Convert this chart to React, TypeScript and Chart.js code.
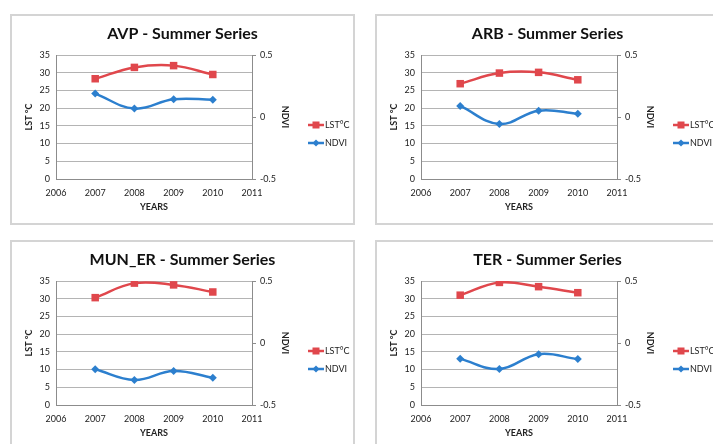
import React, { useEffect, useRef } from "react";
import { Chart, registerables } from "chart.js";

Chart.register(...registerables);

const years = [2007, 2008, 2009, 2010];

const avpLst = [28.3, 31.5, 32.0, 29.5];
const avpNdvi = [0.189, 0.068, 0.143, 0.14];

const arbLst = [26.9, 29.9, 30.1, 28.0];
const arbNdvi = [0.089, -0.057, 0.051, 0.026];

const munLst = [30.3, 34.4, 33.9, 31.9];
const munNdvi = [-0.212, -0.298, -0.226, -0.28];

const terLst = [31.0, 34.6, 33.4, 31.7];
const terNdvi = [-0.128, -0.21, -0.09, -0.13];

const titles = [
  "AVP - Summer Series",
  "ARB - Summer Series",
  "MUN_ER - Summer Series",
  "TER - Summer Series",
];

const lstLabel = "LST°C";
const ndviLabel = "NDVI";
const leftAxisTitle = "LST °C";
const rightAxisTitle = "NDVI";
const xAxisTitle = "YEARS";

const RED = "#E0474C";
const BLUE = "#2C7FCE";
const FONT = "Lato, 'Liberation Sans', sans-serif";

const W = 341;
const H = 207;
const PLOT_L = 44;
const PLOT_R = 240;
const PLOT_T = 39;
const PLOT_B = 163;
const Y2W = W - PLOT_R;

const legendPlugin = {
  id: "sideLegend",
  afterDraw(chart: any) {
    const { ctx, chartArea } = chart;
    const mid = (chartArea.top + chartArea.bottom) / 2;
    const x0 = chartArea.right + 56;
    const rows = [mid + 8, mid + 26];
    chart.data.datasets.forEach((ds: any, i: number) => {
      const y = rows[i];
      ctx.save();
      ctx.strokeStyle = ds.borderColor;
      ctx.lineWidth = 2.5;
      ctx.beginPath();
      ctx.moveTo(x0, y);
      ctx.lineTo(x0 + 16, y);
      ctx.stroke();
      ctx.fillStyle = ds.borderColor;
      if (i === 0) {
        ctx.fillRect(x0 + 8 - 3.5, y - 3.5, 7, 7);
      } else {
        ctx.beginPath();
        ctx.moveTo(x0 + 8, y - 3.5);
        ctx.lineTo(x0 + 11.5, y);
        ctx.lineTo(x0 + 8, y + 3.5);
        ctx.lineTo(x0 + 4.5, y);
        ctx.closePath();
        ctx.fill();
      }
      ctx.fillStyle = "#222";
      ctx.font = `9px ${FONT}`;
      ctx.textBaseline = "middle";
      ctx.textAlign = "left";
      ctx.fillText(ds.label, x0 + 17, y);
      ctx.restore();
    });
  },
};

function Panel(props: { title: string; lst: number[]; ndvi: number[]; left: number; top: number }) {
  const ref = useRef<HTMLCanvasElement | null>(null);
  useEffect(() => {
    if (!ref.current) return;
    const tickFont = { family: FONT, size: 9 };
    const titleFont = { family: FONT, size: 9, weight: "bold" as const };
    const chart = new Chart(ref.current, {
      type: "line",
      data: {
        datasets: [
          {
            label: lstLabel,
            data: years.map((x, i) => ({ x, y: props.lst[i] })),
            borderColor: RED,
            backgroundColor: RED,
            borderWidth: 2.5,
            pointStyle: "rect",
            pointRadius: 5.3,
            pointBorderWidth: 0,
            tension: 0.4,
            yAxisID: "y",
          },
          {
            label: ndviLabel,
            data: years.map((x, i) => ({ x, y: props.ndvi[i] })),
            borderColor: BLUE,
            backgroundColor: BLUE,
            borderWidth: 2.5,
            pointStyle: "rectRot",
            pointRadius: 4,
            pointBorderWidth: 0,
            tension: 0.4,
            yAxisID: "y2",
          },
        ],
      },
      options: {
        responsive: false,
        animation: false,
        layout: { padding: 0 },
        plugins: {
          legend: { display: false },
          tooltip: { enabled: false },
          title: {
            display: true,
            text: props.title,
            color: "#111",
            font: { family: FONT, size: 16, weight: "bold" },
            padding: { top: 7.8, bottom: PLOT_T - 7.8 - 19.2 },
          },
        },
        scales: {
          x: {
            type: "linear",
            min: 2006,
            max: 2011,
            ticks: { stepSize: 1, color: "#222", font: tickFont, padding: 9, callback: (v: any) => String(v) },
            grid: { display: false, drawTicks: false },
            border: { display: true, color: "#8c8c8c" },
            title: { display: true, text: xAxisTitle, color: "#222", font: titleFont, padding: { top: 0, bottom: 10.9 } },
            afterFit: (s: any) => {
              s.height = H - PLOT_B;
            },
          },
          y: {
            position: "left",
            min: 0,
            max: 35,
            ticks: { stepSize: 5, color: "#222", font: tickFont, padding: 6 },
            grid: { color: "#b4b4b4", drawTicks: false },
            border: { display: true, color: "#8c8c8c" },
            title: { display: true, text: leftAxisTitle, color: "#222", font: titleFont, padding: { top: 11.6, bottom: 0 } },
            afterFit: (s: any) => {
              s.width = PLOT_L;
            },
          },
          y2: {
            position: "right",
            min: -0.5,
            max: 0.5,
            ticks: { stepSize: 0.5, color: "#222", font: tickFont, padding: 4 },
            grid: { drawOnChartArea: false, drawTicks: true, tickLength: 4, color: "#8c8c8c" },
            border: { display: true, color: "#8c8c8c" },
            title: { display: true, text: rightAxisTitle, color: "#222", font: titleFont, padding: { top: Y2W - 33 - 5.4, bottom: 0 } },
            afterFit: (s: any) => {
              s.width = Y2W;
            },
          },
        },
      },
      plugins: [legendPlugin],
    } as any);
    return () => chart.destroy();
  }, [props.title]);
  return (
    <div
      style={{
        position: "absolute",
        left: props.left,
        top: props.top,
        border: "2px solid #d4d4d4",
        background: "#fff",
        width: W,
        height: H,
      }}
    >
      <canvas ref={ref} width={W} height={H} style={{ display: "block", width: W, height: H }} />
    </div>
  );
}

export default function App() {
  return (
    <div
      style={{
        position: "absolute",
        left: 0,
        top: 0,
        width: 713,
        height: 444,
        overflow: "hidden",
        background: "#fff",
      }}
    >
      <Panel title={titles[0]} lst={avpLst} ndvi={avpNdvi} left={10} top={14} />
      <Panel title={titles[1]} lst={arbLst} ndvi={arbNdvi} left={375} top={14} />
      <Panel title={titles[2]} lst={munLst} ndvi={munNdvi} left={10} top={240} />
      <Panel title={titles[3]} lst={terLst} ndvi={terNdvi} left={375} top={240} />
    </div>
  );
}
